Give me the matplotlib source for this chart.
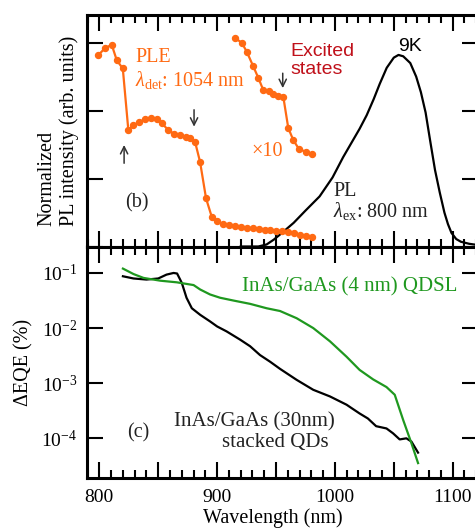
import numpy as np
import matplotlib
matplotlib.use('Agg')
import matplotlib.pyplot as plt
from matplotlib.ticker import MultipleLocator, FixedLocator, NullLocator, FuncFormatter, NullFormatter

plt.rcParams['font.family'] = ['Liberation Serif', 'DejaVu Serif']
plt.rcParams['mathtext.fontset'] = 'custom'
plt.rcParams['mathtext.rm'] = 'Liberation Serif'
plt.rcParams['mathtext.it'] = 'Liberation Serif:italic'
plt.rcParams['mathtext.bf'] = 'Liberation Serif:bold'

# ---------------- data: panel (b) ----------------
ple_wl = [799.2, 804.8, 810.5, 814.8, 819.9, 824.6, 828.9, 834.0, 838.8, 843.9,
          848.7, 853.0, 858.6, 863.7, 868.5, 873.6, 877.0, 881.2, 885.5, 890.6,
          895.4, 900.2, 905.3, 910.4, 915.2, 920.3, 925.4, 930.5, 935.2, 940.3,
          945.2, 950.3, 955.1, 960.2, 964.9, 970.6, 975.7, 980.5]
ple_int = [2.83, 2.93, 2.98, 2.75, 2.63, 1.72, 1.79, 1.84, 1.88, 1.90,
           1.89, 1.82, 1.72, 1.66, 1.64, 1.62, 1.61, 1.55, 1.25, 0.71,
           0.44, 0.37, 0.33, 0.32, 0.30, 0.29, 0.28, 0.27, 0.26, 0.25,
           0.24, 0.235, 0.225, 0.215, 0.195, 0.17, 0.15, 0.135]

exc_wl = [915.2, 920.9, 925.1, 930.7, 935.0, 939.2, 944.1, 947.7, 952.0, 956.2,
          960.4, 964.7, 969.5, 975.2, 980.3]
exc_int = [3.08, 3.01, 2.88, 2.66, 2.49, 2.31, 2.29, 2.25, 2.22, 2.21,
           1.75, 1.57, 1.44, 1.40, 1.37]

pl_wl = [920, 935, 942, 948, 955, 965, 975, 987, 998, 1007, 1013, 1021, 1027,
         1033, 1038, 1044, 1050, 1054, 1058, 1064, 1069, 1073, 1077, 1081, 1085,
         1089, 1093, 1096, 1099, 1103, 1107, 1114, 1122]
pl_int = [0.0, 0.0, 0.03, 0.10, 0.20, 0.35, 0.53, 0.74, 1.02, 1.32, 1.50, 1.74, 1.94,
          2.18, 2.40, 2.64, 2.79, 2.83, 2.81, 2.71, 2.51, 2.28, 1.98, 1.55, 1.13,
          0.80, 0.50, 0.33, 0.20, 0.11, 0.07, 0.04, 0.02]

# arrows marking transitions: (wavelength, tail, tip)
arrow_wl = [821, 880.4, 955.7]
arrow_tail = [1.23, 2.02, 2.56]
arrow_tip = [1.50, 1.77, 2.34]

# ---------------- data: panel (c) ----------------
qd_wl = [820, 829, 840, 850, 857, 863, 866, 870, 874, 878.5, 885.6, 894, 900, 908,
         919.5, 928, 936.4, 945, 953.4, 967.5, 981.6, 995.8, 1009.9, 1014, 1021,
         1028, 1035, 1043.8, 1049.4, 1055, 1060.7, 1065, 1070.6]
qd_eqe = [0.0871, 0.0794, 0.0759, 0.0794, 0.0933, 0.100, 0.0977, 0.0661, 0.0355,
          0.0229, 0.0174, 0.0132, 0.0107, 0.00871, 0.00617, 0.00468, 0.00324,
          0.00245, 0.00182, 0.00115, 0.000759, 0.000575, 0.000407, 0.000355,
          0.000282, 0.000229, 0.000166, 0.000151, 0.000123, 0.0000955, 0.000100,
          0.0000871, 0.0000550]

sl_wl = [820, 829, 837.5, 851.7, 865.8, 880, 885.6, 894, 902.5, 913.8, 928, 942,
         953.4, 967.5, 981.6, 995.8, 1009.9, 1021, 1032.5, 1043.8, 1050.8, 1058,
         1065, 1070.6]
sl_eqe = [0.120, 0.0955, 0.0813, 0.0724, 0.0676, 0.0603, 0.0501, 0.0407, 0.0355,
          0.0316, 0.0275, 0.0229, 0.0204, 0.0151, 0.0100, 0.00575, 0.00302,
          0.00174, 0.00117, 0.000851, 0.000617, 0.000214, 0.0000813, 0.0000355]

x_ticklabels = [800, 900, 1000, 1100]

ORANGE = '#ff6a13'
GREEN = '#1f981f'
DARKRED = '#c0101a'

fig = plt.figure(figsize=(4.75, 5.3), dpi=100)
ax1 = fig.add_axes([87 / 475, 1 - 246.5 / 530, 391 / 475, 231.5 / 530])
ax2 = fig.add_axes([87 / 475, 1 - 478 / 530, 391 / 475, 231.5 / 530])

for ax in (ax1, ax2):
    for s in ax.spines.values():
        s.set_linewidth(2.2)
    ax.set_xlim(789.5, 1121.5)
    ax.xaxis.set_major_locator(MultipleLocator(50))
    ax.xaxis.set_minor_locator(MultipleLocator(10))
    ax.tick_params(which='both', direction='in', top=True, right=True, width=1.5)
    ax.tick_params(which='major', length=11.5, labelsize=14)
    ax.tick_params(which='minor', length=5.5)

# ---- panel (b) ----
ax1.plot(pl_wl, pl_int, color='black', lw=1.6, zorder=2)
ax1.plot(ple_wl, ple_int, color=ORANGE, lw=1.6, marker='o', ms=4.3, zorder=3)
ax1.plot(exc_wl, exc_int, color=ORANGE, lw=1.6, marker='o', ms=4.3, zorder=3)
ax1.set_ylim(0, 3.42)
ax1.yaxis.set_major_locator(FixedLocator([0, 1, 2, 3]))
ax1.yaxis.set_minor_locator(NullLocator())
ax1.xaxis.set_major_formatter(NullFormatter())
ax1.yaxis.set_major_formatter(NullFormatter())
ax1.set_ylabel('Normalized\nPL intensity (arb. units)', fontsize=14.5,
               multialignment='left')
ax1.yaxis.set_label_coords(-0.020, 0.5)

ax1.text(830.4, 2.73, 'PLE', color=ORANGE, fontsize=14.5, va='baseline')
ax1.text(830.4, 2.37, r'$\lambda_{\rm det}$: 1054 nm', color=ORANGE, fontsize=14.5, va='baseline')
ax1.text(929.4, 1.33, '×10', color=ORANGE, fontsize=14.5, va='baseline')
ax1.text(961.9, 2.81, 'Excited', color=DARKRED, fontsize=14, va='baseline',
         family=['Liberation Sans', 'DejaVu Sans'])
ax1.text(961.9, 2.55, 'states', color=DARKRED, fontsize=14, va='baseline',
         family=['Liberation Sans', 'DejaVu Sans'])
ax1.text(1064, 2.89, '9K', color='black', fontsize=14, va='baseline', ha='center',
         family=['Liberation Sans', 'DejaVu Sans'])
ax1.text(998.7, 0.74, 'PL', color='#222222', fontsize=14.5, va='baseline')
ax1.text(998.7, 0.44, r'$\lambda_{\rm ex}$: 800 nm', color='#222222', fontsize=14.5, va='baseline')
ax1.text(821.9, 0.58, '(b)', color='#222222', fontsize=14.5, va='baseline')
for xw, yt, yh in zip(arrow_wl, arrow_tail, arrow_tip):
    ax1.annotate('', xy=(xw, yh), xytext=(xw, yt),
                 arrowprops=dict(arrowstyle='->', lw=1.1, color='#333333',
                                 mutation_scale=13, shrinkA=0, shrinkB=0))

# ---- panel (c) ----
ax2.set_yscale('log')
ax2.plot(qd_wl, qd_eqe, color='black', lw=1.6)
ax2.plot(sl_wl, sl_eqe, color=GREEN, lw=1.6)
ax2.set_ylim(10 ** -4.72, 10 ** -0.52)
ax2.yaxis.set_major_locator(FixedLocator([1e-4, 1e-3, 1e-2, 1e-1]))
ax2.yaxis.set_minor_locator(NullLocator())
ax2.xaxis.set_major_formatter(FuncFormatter(
    lambda v, p: f'{int(round(v))}' if int(round(v)) in x_ticklabels else ''))
ax2.tick_params(axis='x', which='major', pad=8)
ax2.tick_params(axis='y', which='major', pad=7)
ax2.set_xlabel('Wavelength (nm)', fontsize=14.5)
ax2.xaxis.set_label_coords(0.474, -0.132)
ax2.set_ylabel('ΔEQE (%)', fontsize=14.5)
ax2.yaxis.set_label_coords(-0.136, 0.5)

ax2.text(920.9, 0.0465, 'InAs/GaAs (4 nm) QDSL', color=GREEN, fontsize=15, va='baseline')
ax2.text(863, 1.66e-4, 'InAs/GaAs (30nm)', color='#222222', fontsize=15, va='baseline')
ax2.text(903.9, 6.9e-5, 'stacked QDs', color='#222222', fontsize=15, va='baseline')
ax2.text(823.3, 1.05e-4, '(c)', color='#222222', fontsize=14.5, va='baseline')

fig.savefig('out.png', dpi=100)
